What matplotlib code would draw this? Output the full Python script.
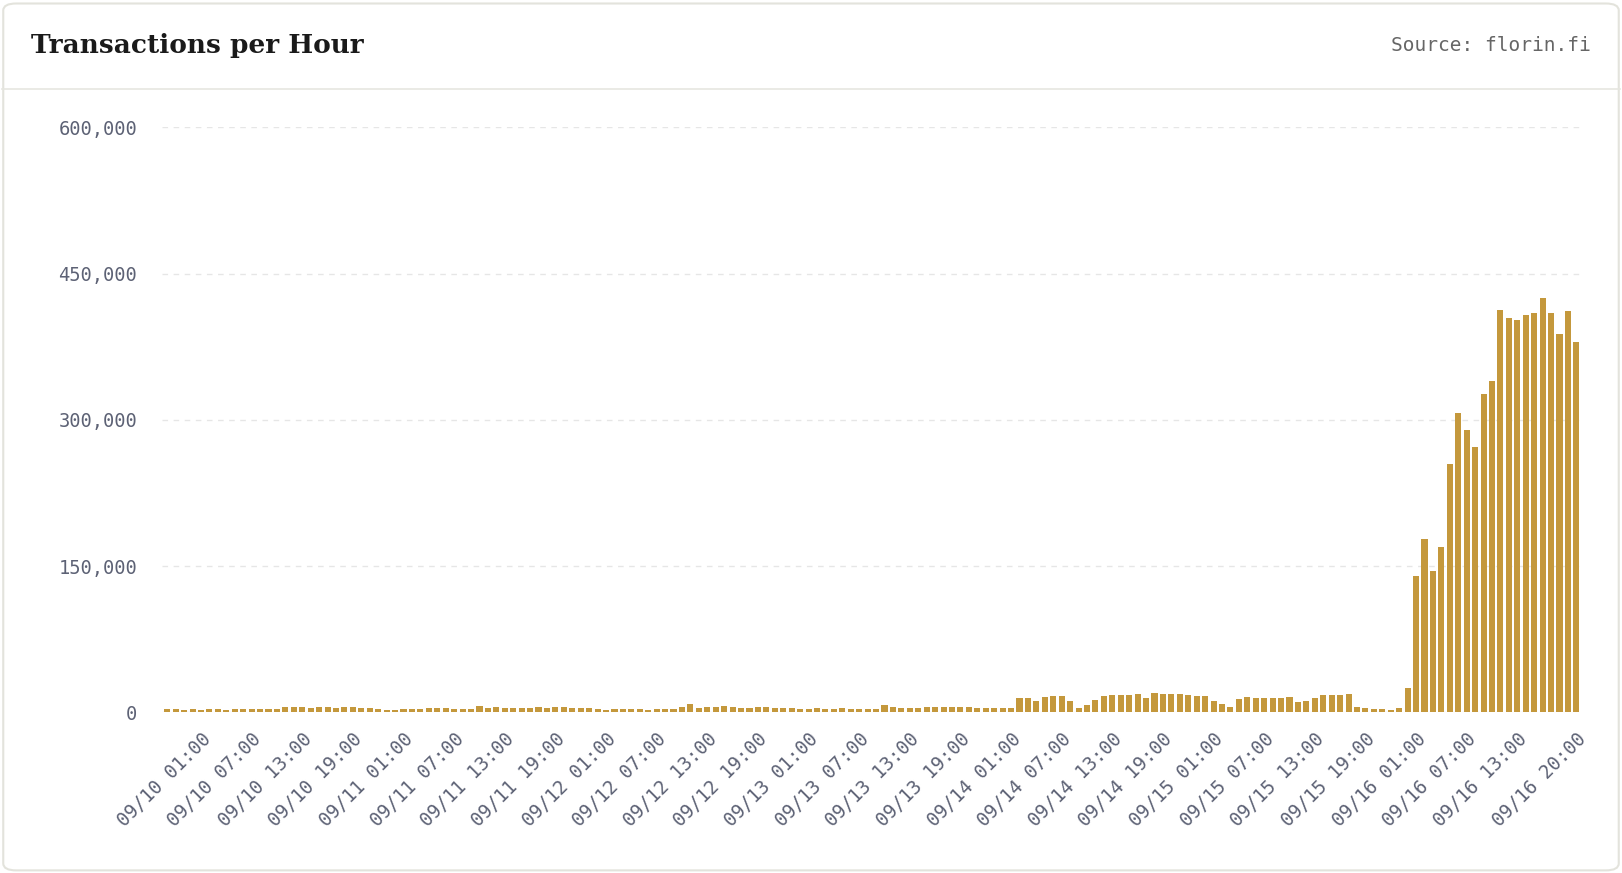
import matplotlib
matplotlib.use("Agg")
import matplotlib.pyplot as plt
from matplotlib.patches import FancyBboxPatch
import numpy as np

low = [3000,3500,2500,3000,2500,3500,3000,2500,3500,3000,3500,3000,3000,3500,5000,5500,5000,4500,5000,5000,4500,5000,5000,4500,4000,3000,2500,2500,3000,3000,3500,4000,4500,4000,3500,3500,3500,7000,4500,6000,4000,4000,4500,4500,5000,4500,5500,5500,4500,4500,4000,3000,2500,3500,3000,3000,3500,2500,3000,3000,3500,6000,8500,4500,5000,5000,7000,6000,4500,4500,5500,5000,4500,4500,4000,3500,3500,4500,3000,3000,4500,3500,3500,3000,3500,8000,5500,4500,4500,4500,5000,5000,5000,5000,5000,5000,4500,4500,4500,4000,4500]
high = [15000,15000,12000,16000,17000,17000,12000,4000,8000,13000,
        17000,18000,18000,18000,19000,15000,20000,19000,19000,19000,
        18000,17000,17000,12000,9000,5000,14000,16000,15000,15000,
        15000,15000,16000,11000,12000,15000,18000,18000,18000,19000,
        5000,4000,3000,3000,2000,4000,25000,140000,178000,145000,
        170000,255000,307000,290000,272000,327000,340000,413000,405000,403000,
        408000,410000,425000,410000,388000,412000,380000]
values = low + high
start_day, start_hour = 9, 21
tick_idx = list(range(4, len(values), 6))
tick_idx = [i for i in tick_idx if i <= 160] + [len(values) - 1]
def lab(i):
    h = start_hour + i
    return f"09/{start_day + h // 24:02d} {h % 24:02d}:00"
tick_labels = [lab(i) for i in tick_idx]

fig = plt.figure(figsize=(16.22, 8.73), dpi=100)
card = FancyBboxPatch((0.002, 0.003), 0.996, 0.993, boxstyle="round,pad=0,rounding_size=0.008",
                      transform=fig.transFigure, fc="white", ec="#e3e3dc", lw=1.5, zorder=-5)
fig.patches.append(card)
fig.add_artist(plt.Line2D([0.001, 0.999], [0.898, 0.898], color="#e6e6e0", lw=1.2))
fig.text(0.019, 0.948, "Transactions per Hour", family="DejaVu Serif", weight="bold", fontsize=19, va="center", color="#1a1a1a")
fig.text(0.981, 0.948, "Source: florin.fi", family="DejaVu Sans Mono", fontsize=14, va="center", ha="right", color="#666")

ax = fig.add_axes([0.100, 0.184, 0.875, 0.670])
ax.set_zorder(5)
ax.patch.set_alpha(0)
x = np.arange(len(values))
ax.bar(x, values, width=0.72, color="#C4983C")
ax.set_xlim(-0.6, len(values) - 0.4)
ax.set_ylim(0, 600000)
ax.set_yticks([0, 150000, 300000, 450000, 600000])
ax.set_yticklabels([f"{v:,}" for v in [0, 150000, 300000, 450000, 600000]])
ax.yaxis.grid(True, ls=(0, (4, 4)), color="#e6e6e6", lw=1)
ax.set_axisbelow(True)
for s in ax.spines.values():
    s.set_visible(False)
ax.set_xticks(tick_idx)
ax.set_xticklabels(tick_labels, rotation=45, ha="right", rotation_mode="anchor")
ax.tick_params(length=0, labelsize=13.5, colors="#5d6275", pad=12)
for t in ax.get_xticklabels() + ax.get_yticklabels():
    t.set_family("DejaVu Sans Mono")
ax.tick_params(axis="y", pad=18)
fig.savefig("out.png", dpi=100)
